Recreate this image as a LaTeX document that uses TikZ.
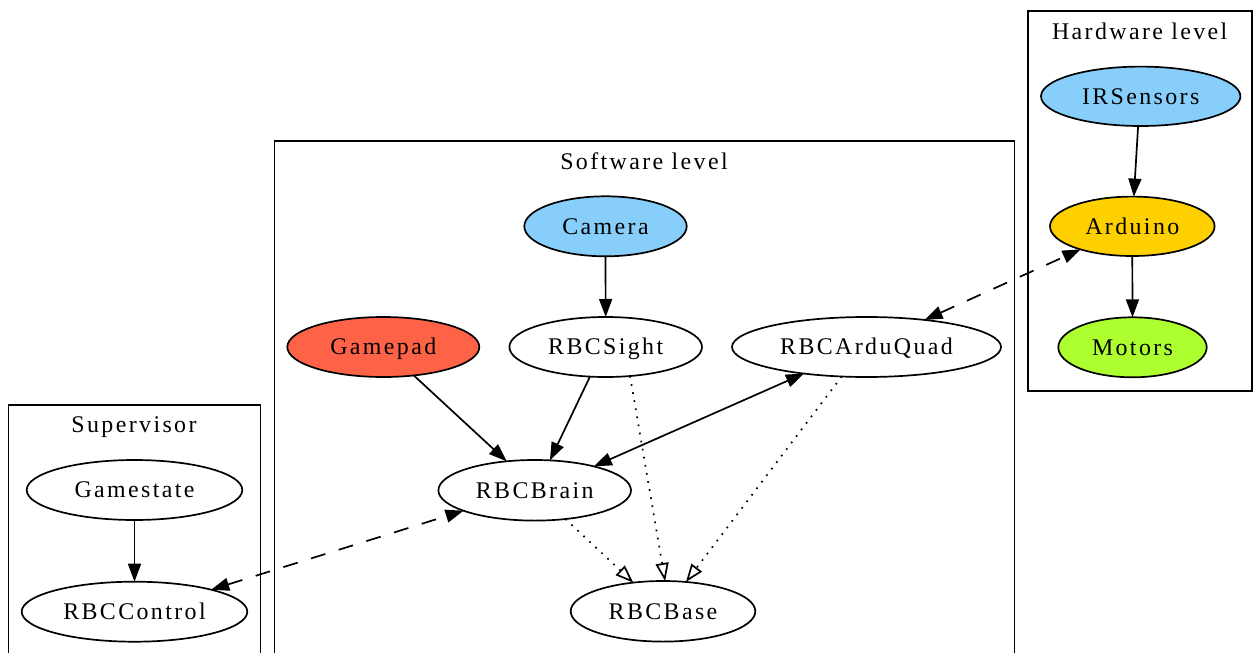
\documentclass[tikz,border=0pt]{standalone}
\usepackage{fontspec}
\setmainfont{Liberation Serif}[LetterSpace=10]
\usetikzlibrary{shapes.geometric,arrows.meta}
\definecolor{skyb}{HTML}{87CEFA}
\definecolor{goldc}{HTML}{FFD000}
\definecolor{greeny}{HTML}{ADFF2F}
\definecolor{tomatoc}{HTML}{FF6347}
\begin{document}
\begin{tikzpicture}[x=1pt,y=-1pt,
  every node/.style={font=\fontsize{23.9}{28}\selectfont},
  ell/.style 2 args={ellipse, draw, line width=1.7pt, inner sep=0pt, outer sep=0pt,
    minimum width=#1, minimum height=#2, text height=15.7pt, text depth=0pt},
  cluster/.style={draw, line width=1.7pt},
  ttl/.style={inner sep=0pt, text height=15.7pt, text depth=0pt},
  edge/.style={line width=1.7pt, -{Triangle[length=18pt,width=13pt]}},
  biedge/.style={line width=1.7pt, {Triangle[length=18pt,width=13pt]}-{Triangle[length=18pt,width=13pt]}, dash pattern=on 15pt off 14pt},
  inh/.style={line width=1.7pt, -{Triangle[open,length=18pt,width=13pt]}, dash pattern=on 1.7pt off 6.5pt},
  soft/.style={line width=1.7pt, {Triangle[length=18pt,width=13pt]}-{Triangle[length=18pt,width=13pt]}}
]
\useasboundingbox (0,0) rectangle (1253,653);
\fill[white] (0,0) rectangle (1253,653);

% clusters
\draw[cluster] (8.5,405) rectangle (260.5,670);
\node[ttl] (tSup) at (134,425) {Supervisor};
\draw[cluster] (274.5,141) rectangle (1014.5,670);
\node[ttl] (tSoft) at (644,161.3) {Software level};
\draw[cluster] (1028.3,11) rectangle (1252.3,390.7);
\node[ttl] (tHard) at (1139.7,31.3) {Hardware level};

% hardware
\node[ell={199.4pt}{59.4pt}, fill=skyb] (IRSensors) at (1140.7,96.3) {IRSensors};
\node[ell={164.6pt}{59.4pt}, fill=goldc] (Arduino) at (1132.3,226.3) {Arduino};
\node[ell={148.4pt}{60pt}, fill=greeny] (Motors) at (1132.5,347.3) {Motors};

% software
\node[ell={162.4pt}{60pt}, fill=skyb] (Camera) at (605.5,226.3) {Camera};
\node[ell={192pt}{60pt}, fill=tomatoc] (Gamepad) at (383.3,347) {Gamepad};
\node[ell={192.6pt}{60pt}] (RBCSight) at (605.7,347) {RBCSight};
\node[ell={269pt}{60pt}] (RBCArduQuad) at (866.5,347) {RBCArduQuad};
\node[ell={192.6pt}{60.6pt}] (RBCBrain) at (534.7,490.3) {RBCBrain};
\node[ell={184.6pt}{60.6pt}] (RBCBase) at (663,611.3) {RBCBase};

% supervisor
\node[ell={215.6pt}{60pt}] (Gamestate) at (134.5,490) {Gamestate};
\node[ell={225.6pt}{60pt}] (RBCControl) at (134.5,611.7) {RBCControl};

% edges
\draw[edge] (Gamestate.south) -- (RBCControl.north);
\draw[edge] (IRSensors.265) -- (Arduino.87);
\draw[edge] (Arduino.south) -- (Motors.north);
\draw[edge] (Camera.south) -- (RBCSight.north);
\draw[edge] (Gamepad.-43) -- (RBCBrain.134);
\draw[edge] (RBCSight.242) -- (RBCBrain.63);
\draw[soft] (RBCBrain.22) -- (RBCArduQuad.203);
\draw[biedge] (RBCArduQuad.25) -- (Arduino.204);
\draw[biedge] (RBCControl.16.5) -- (RBCBrain.196);
\draw[inh] (RBCBrain.-43) -- (RBCBase.136);
\draw[inh] (RBCSight.-50) -- (RBCBase.86);
\draw[inh] (RBCArduQuad.230) -- (RBCBase.52);
\end{tikzpicture}
\end{document}
